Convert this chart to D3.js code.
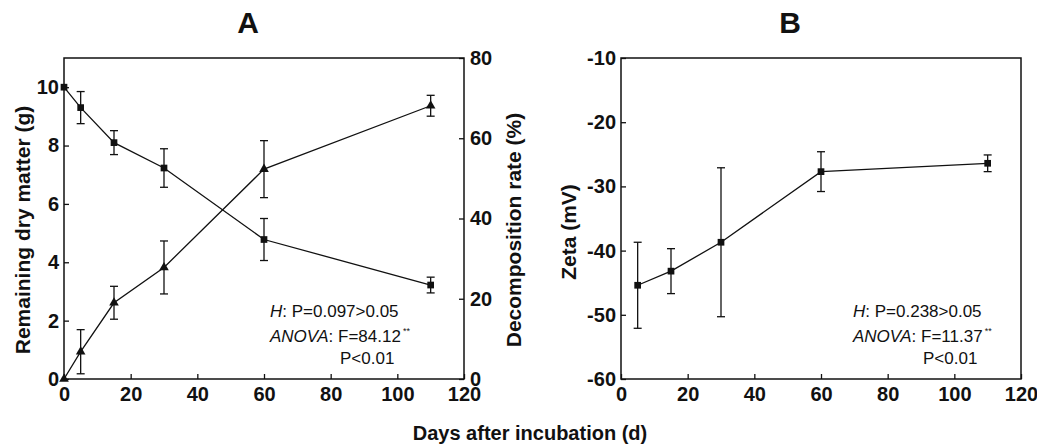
<!DOCTYPE html>
<html>
<head>
<meta charset="utf-8">
<script src="https://cdn.jsdelivr.net/npm/d3@7"></script>
<style>
  body { margin: 0; background: #fff; }
</style>
</head>
<body>
<div id="chart"></div>
<script>
// days of incubation
const days = [0, 5, 15, 30, 60, 110];
const daysB = [5, 15, 30, 60, 110];

// panel A: remaining dry matter (g) and decomposition rate (%)
const remaining = [10, 9.3, 8.1, 7.23, 4.78, 3.22];
const remainingErr = [0, 0.55, 0.41, 0.66, 0.72, 0.27];
const decomposition = [0, 6.8, 19, 27.8, 52.3, 68.1];
const decompositionErr = [0, 5.5, 4.1, 6.6, 7.1, 2.6];

// panel B: zeta potential (mV)
const zeta = [-45.4, -43.2, -38.7, -27.7, -26.4];
const zetaErr = [6.7, 3.5, 11.6, 3.1, 1.3];

const xTicks = [0, 20, 40, 60, 80, 100, 120];
const leftTicksA = [0, 2, 4, 6, 8, 10];
const rightTicksA = [0, 20, 40, 60, 80];
const ticksB = [-60, -50, -40, -30, -20, -10];

const font = "'Liberation Sans', Arial, sans-serif";
const ink = "#111";
const plotTop = 58, plotBottom = 379;

const svg = d3.select("#chart").append("svg")
    .attr("width", 1037)
    .attr("height", 448)
    .style("font-family", font);

function seriesOf(xs, ys, es) {
    return xs.map((x, i) => ({ x: x, y: ys[i], e: es[i] }));
}

// axis with inward ticks, bold labels and no domain line
function styleAxis(a) {
    a.attr("font-family", font);
    a.select(".domain").remove();
    a.selectAll(".tick line").attr("stroke", ink).attr("stroke-width", 1.3);
    a.selectAll(".tick text")
        .attr("font-size", 20)
        .attr("font-weight", "bold")
        .attr("fill", ink);
}

function drawSeries(g, data, x, y, symbolType, size) {
    g.append("path")
        .datum(data)
        .attr("fill", "none")
        .attr("stroke", ink)
        .attr("stroke-width", 1.3)
        .attr("d", d3.line().x(d => x(d.x)).y(d => y(d.y)));

    const bars = g.selectAll(null)
        .data(data.filter(d => d.e > 0))
        .join("g")
        .attr("stroke", ink)
        .attr("stroke-width", 1.3);
    bars.append("line")
        .attr("x1", d => x(d.x)).attr("x2", d => x(d.x))
        .attr("y1", d => y(d.y - d.e)).attr("y2", d => y(d.y + d.e));
    bars.append("line")
        .attr("x1", d => x(d.x) - 4).attr("x2", d => x(d.x) + 4)
        .attr("y1", d => y(d.y + d.e)).attr("y2", d => y(d.y + d.e));
    bars.append("line")
        .attr("x1", d => x(d.x) - 4).attr("x2", d => x(d.x) + 4)
        .attr("y1", d => y(d.y - d.e)).attr("y2", d => y(d.y - d.e));

    g.selectAll(null)
        .data(data)
        .join("path")
        .attr("transform", d => `translate(${x(d.x)},${y(d.y)})`)
        .attr("d", d3.symbol().type(symbolType).size(size))
        .attr("fill", ink);
}

function drawFrame(g, left, right) {
    g.append("rect")
        .attr("x", left).attr("y", plotTop)
        .attr("width", right - left).attr("height", plotBottom - plotTop)
        .attr("fill", "none")
        .attr("stroke", ink)
        .attr("stroke-width", 1.5);
}

function xAxis(g, x) {
    g.append("g")
        .attr("transform", `translate(0,${plotBottom})`)
        .call(d3.axisBottom(x).tickValues(xTicks).tickSize(-5).tickPadding(8))
        .call(styleAxis);
}

function annotate(g, x0, x3, stat) {
    const t = g.append("g").attr("font-size", 17).attr("fill", ink);
    const l1 = t.append("text").attr("x", x0).attr("y", 316.5);
    l1.append("tspan").attr("font-style", "italic").text("H");
    l1.append("tspan").text(": P=" + stat.p);
    const l2 = t.append("text").attr("x", x0).attr("y", 341.5);
    l2.append("tspan").attr("font-style", "italic").text("ANOVA");
    l2.append("tspan").text(": F=" + stat.f);
    l2.append("tspan").attr("font-size", 9).attr("dx", 2).attr("dy", -8).text("**");
    t.append("text").attr("x", x3).attr("y", 364).text("P<0.01");
}

function yTitle(g, cx, cy, label) {
    g.append("text")
        .attr("transform", `translate(${cx},${cy}) rotate(-90)`)
        .attr("text-anchor", "middle")
        .attr("dominant-baseline", "central")
        .attr("font-size", 21).attr("font-weight", "bold")
        .attr("fill", ink)
        .text(label);
}

function panelTitle(g, cx, label) {
    g.append("text")
        .attr("x", cx).attr("y", 33)
        .attr("text-anchor", "middle")
        .attr("font-size", 30).attr("font-weight", "bold")
        .attr("fill", ink)
        .text(label);
}

// ---------- panel A ----------
const gA = svg.append("g");
const xA = d3.scaleLinear().domain([0, 120]).range([64, 464]);
const yA = d3.scaleLinear().domain([0, 11]).range([plotBottom, plotTop]);
const yA2 = d3.scaleLinear().domain([0, 80]).range([plotBottom, plotTop]);

gA.append("g")
    .attr("transform", "translate(64,0)")
    .call(d3.axisLeft(yA).tickValues(leftTicksA).tickSize(-5).tickPadding(5))
    .call(styleAxis);
gA.append("g")
    .attr("transform", "translate(464,0)")
    .call(d3.axisRight(yA2).tickValues(rightTicksA).tickSize(-5).tickPadding(6))
    .call(styleAxis);
xAxis(gA, xA);
drawFrame(gA, 64, 464);

drawSeries(gA, seriesOf(days, remaining, remainingErr), xA, yA, d3.symbolSquare, 45);
drawSeries(gA, seriesOf(days, decomposition, decompositionErr), xA, yA2, d3.symbolTriangle, 40);

annotate(gA, 270, 340, { p: "0.097>0.05", f: "84.12" });
panelTitle(gA, 248, "A");
yTitle(gA, 22, 230, "Remaining dry matter (g)");
yTitle(gA, 513, 230, "Decomposition rate (%)");

// ---------- panel B ----------
const gB = svg.append("g");
const xB = d3.scaleLinear().domain([0, 120]).range([621, 1021]);
const yB = d3.scaleLinear().domain([-60, -10]).range([plotBottom, plotTop]);

gB.append("g")
    .attr("transform", "translate(621,0)")
    .call(d3.axisLeft(yB).tickValues(ticksB).tickFormat(d => String(d)).tickSize(-5).tickPadding(5))
    .call(styleAxis);
xAxis(gB, xB);
drawFrame(gB, 621, 1021);

drawSeries(gB, seriesOf(daysB, zeta, zetaErr), xB, yB, d3.symbolSquare, 45);

annotate(gB, 853, 923, { p: "0.238>0.05", f: "11.37" });
panelTitle(gB, 790, "B");
yTitle(gB, 568, 232, "Zeta (mV)");

// shared x title
svg.append("text")
    .attr("x", 530).attr("y", 440)
    .attr("text-anchor", "middle")
    .attr("font-size", 20).attr("font-weight", "bold")
    .attr("fill", ink)
    .text("Days after incubation (d)");
</script>
</body>
</html>
